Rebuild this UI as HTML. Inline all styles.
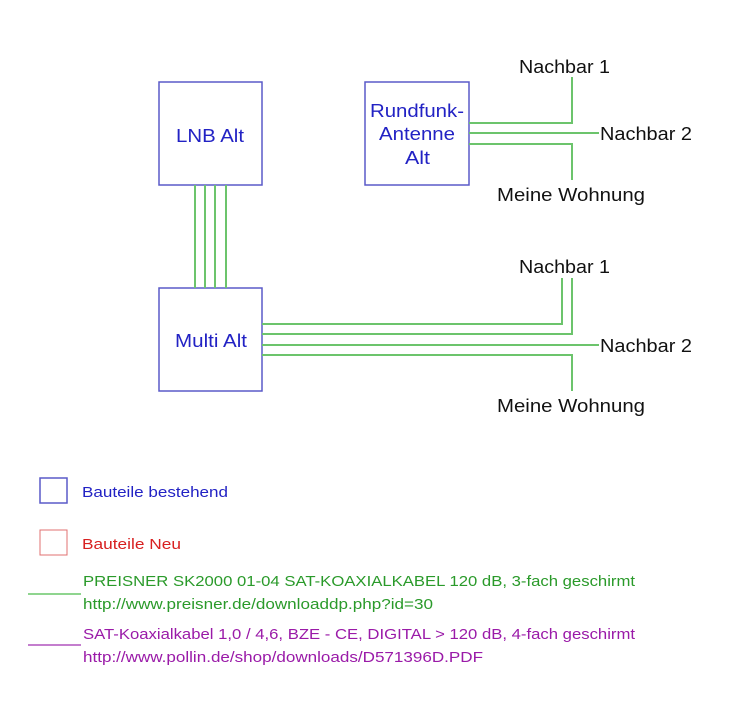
<!DOCTYPE html>
<html><head><meta charset="utf-8"><style>
html,body{margin:0;padding:0;background:#fff;}
svg{display:block;}
text{font-family:"Liberation Sans",sans-serif;}
</style></head><body>
<svg width="732" height="708" viewBox="0 0 732 708" xmlns="http://www.w3.org/2000/svg">
<g fill="none" stroke="#5a5ac8" stroke-width="1.5">
<rect x="159" y="82" width="103" height="103"/>
<rect x="365" y="82" width="104" height="103"/>
<rect x="159" y="288" width="103" height="103"/>
</g>
<g fill="none" stroke="#6cc46c" stroke-width="2">
<line x1="195" y1="185" x2="195" y2="288"/>
<line x1="205" y1="185" x2="205" y2="288"/>
<line x1="215" y1="185" x2="215" y2="288"/>
<line x1="226" y1="185" x2="226" y2="288"/>
<polyline points="469,123 572,123 572,77"/>
<line x1="469" y1="133" x2="599" y2="133"/>
<polyline points="469,144 572,144 572,180"/>
<polyline points="262,324 562,324 562,278"/>
<polyline points="262,334 572,334 572,278"/>
<line x1="262" y1="345" x2="599" y2="345"/>
<polyline points="262,355 572,355 572,391"/>
</g>
<g fill="#2222c4" font-size="18">
<text x="176" y="142" textLength="68" lengthAdjust="spacingAndGlyphs">LNB Alt</text>
<text x="370" y="117" textLength="94" lengthAdjust="spacingAndGlyphs">Rundfunk-</text>
<text x="379" y="140" textLength="76" lengthAdjust="spacingAndGlyphs">Antenne</text>
<text x="405" y="164" textLength="25" lengthAdjust="spacingAndGlyphs">Alt</text>
<text x="175" y="347" textLength="72" lengthAdjust="spacingAndGlyphs">Multi Alt</text>
</g>
<g fill="#111" font-size="18">
<text x="519" y="73" textLength="91" lengthAdjust="spacingAndGlyphs">Nachbar 1</text>
<text x="600" y="140" textLength="92" lengthAdjust="spacingAndGlyphs">Nachbar 2</text>
<text x="497" y="201" textLength="148" lengthAdjust="spacingAndGlyphs">Meine Wohnung</text>
<text x="519" y="273" textLength="91" lengthAdjust="spacingAndGlyphs">Nachbar 1</text>
<text x="600" y="352" textLength="92" lengthAdjust="spacingAndGlyphs">Nachbar 2</text>
<text x="497" y="412" textLength="148" lengthAdjust="spacingAndGlyphs">Meine Wohnung</text>
</g>
<rect x="40" y="478" width="27" height="25" fill="none" stroke="#5a5ac8" stroke-width="1.5"/>
<text x="82" y="497" fill="#2222c4" font-size="15" textLength="146" lengthAdjust="spacingAndGlyphs">Bauteile bestehend</text>
<rect x="40" y="530" width="27" height="25" fill="none" stroke="#e07070" stroke-width="1"/>
<text x="82" y="549" fill="#d82020" font-size="15" textLength="99" lengthAdjust="spacingAndGlyphs">Bauteile Neu</text>
<line x1="28" y1="594" x2="81" y2="594" stroke="#4cbc4c" stroke-width="1.2"/>
<text x="83" y="586" fill="#2a9a2a" font-size="15" textLength="552" lengthAdjust="spacingAndGlyphs">PREISNER SK2000 01-04 SAT-KOAXIALKABEL  120 dB, 3-fach geschirmt</text>
<text x="83" y="609" fill="#2a9a2a" font-size="15" textLength="350" lengthAdjust="spacingAndGlyphs">http://www.preisner.de/downloaddp.php?id=30</text>
<line x1="28" y1="645" x2="81" y2="645" stroke="#a030b0" stroke-width="1.2"/>
<text x="83" y="639" fill="#9a1aa8" font-size="15" textLength="552" lengthAdjust="spacingAndGlyphs">SAT-Koaxialkabel 1,0 / 4,6, BZE - CE, DIGITAL &gt; 120 dB, 4-fach geschirmt</text>
<text x="83" y="662" fill="#9a1aa8" font-size="15" textLength="400" lengthAdjust="spacingAndGlyphs">http://www.pollin.de/shop/downloads/D571396D.PDF</text>
</svg>
</body></html>
